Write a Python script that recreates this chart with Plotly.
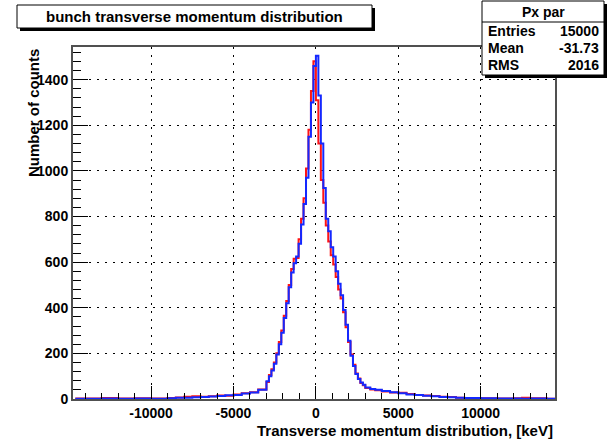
import plotly.graph_objects as go

# ---------------- data ----------------
# histogram bin left edges in keV (coarse in the tails, 150 keV in the core)
tail_left_edges = [-14600, -13000, -12000, -11000, -10000, -9000, -8500, -8000, -7500,
                   -7000, -6500, -6000, -5500, -5000, -4500, -4000, -3500]
core_edges = [-3000 + 150 * i for i in range(40)]
tail_right_edges = [3000, 3300, 3600, 4000, 4500, 5000, 5500, 6000, 6500, 7000, 7500,
                    8000, 8500, 9000, 10000, 11000, 12000, 12500, 13000, 14000]
x_end = 14510

blue_tail_left = [1, 2, 1, 2, 1, 3, 5, 6, 8, 9, 11, 13, 16, 18, 24, 28, 40]
blue_core = [78, 100, 125, 155, 195, 240, 290, 355, 420, 490,
             555, 595, 625, 680, 765, 855, 970, 1150, 1300, 1460,
             1505, 1330, 1120, 925, 790, 735, 665, 625, 560, 505,
             455, 390, 325, 255, 190, 145, 110, 88, 72, 62]
blue_tail_right = [50, 44, 40, 35, 30, 25, 20, 17, 14, 12, 9, 8, 6, 4, 3, 2, 2, 1, 2, 1]

red_tail_left = [2, 4, 2, 3, 2, 4, 7, 10, 12, 10, 12, 15, 14, 20, 25, 30, 42]
red_core = [75, 105, 130, 160, 200, 250, 300, 365, 430, 500,
            570, 615, 618, 700, 790, 880, 1010, 1180, 1350, 1480,
            1310, 1120, 960, 860, 760, 690, 630, 590, 535, 480,
            440, 380, 315, 250, 195, 150, 112, 90, 70, 60]
red_tail_right = [48, 42, 38, 33, 28, 27, 22, 18, 15, 13, 10, 9, 5, 4, 3, 2, 3, 6, 3, 1]

x_ticks = [-10000, -5000, 0, 5000, 10000]
x_tick_labels = ["-10000", "-5000", "0", "5000", "10000"]
y_ticks = [0, 200, 400, 600, 800, 1000, 1200, 1400]
y_tick_labels = ["0", "200", "400", "600", "800", "1000", "1200", "1400"]

title_text = "bunch transverse momentum distribution"
x_title = "Transverse momentum distribution, [keV]"
y_title = "Number of counts"
stats_title = "Px par"
stats_names = ["Entries", "Mean", "RMS"]
stats_values = ["15000", "-31.73", "2016"]

# ---------------- build ----------------
edges = tail_left_edges + core_edges + tail_right_edges + [x_end]
blue = blue_tail_left + blue_core + blue_tail_right
red = red_tail_left + red_core + red_tail_right
blue = blue + [blue[-1]]
red = red + [red[-1]]

FONT = "Liberation Sans, Arial, Helvetica, sans-serif"
W, H = 612, 440
L, R, T, B = 73, 57, 47, 41
PW, PH = W - L - R, H - T - B


def px(x):
    return (x - L) / PW


def py(y):
    return (H - B - y) / PH


fig = go.Figure()
fig.add_trace(go.Scatter(x=edges, y=red, mode="lines", line=dict(color="rgb(255,20,20)", width=2, shape="hv"),
                         showlegend=False, hoverinfo="skip"))
fig.add_trace(go.Scatter(x=edges, y=blue, mode="lines", line=dict(color="rgb(20,40,255)", width=2, shape="hv"),
                         showlegend=False, hoverinfo="skip"))

axis_common = dict(
    showline=True, linecolor="#505050", linewidth=2, mirror=True,
    showgrid=True, gridcolor="black", griddash="1.5px,6.5px", gridwidth=1.3,
    zeroline=False, ticks="inside", tickcolor="black", tickwidth=1,
    tickfont=dict(family=FONT, size=14, color="black", weight="bold"),
)

fig.update_xaxes(range=[-14740, 14510], tickvals=x_ticks, ticktext=x_tick_labels, ticklen=13,
                 minor=dict(dtick=1000, tick0=0, ticks="inside", ticklen=6, tickcolor="black", showgrid=False),
                 **axis_common)
fig.update_yaxes(range=[0, 1543], tickvals=y_ticks, ticktext=y_tick_labels, ticklen=15,
                 minor=dict(dtick=40, tick0=0, ticks="inside", ticklen=8, tickcolor="black", showgrid=False),
                 **axis_common)

shapes = []
# title pave with shadow
shapes.append(dict(type="rect", xref="paper", yref="paper", x0=px(20), x1=px(375), y0=py(31), y1=py(8),
                   fillcolor="black", line=dict(width=0), layer="above"))
shapes.append(dict(type="rect", xref="paper", yref="paper", x0=px(17), x1=px(372), y0=py(28), y1=py(5),
                   fillcolor="white", line=dict(color="black", width=1), layer="above"))
# stats box with shadow
shapes.append(dict(type="rect", xref="paper", yref="paper", x0=px(485), x1=px(607), y0=py(78), y1=py(4),
                   fillcolor="black", line=dict(width=0), layer="above"))
shapes.append(dict(type="rect", xref="paper", yref="paper", x0=px(482), x1=px(604), y0=py(75), y1=py(1),
                   fillcolor="white", line=dict(color="black", width=1), layer="above"))
shapes.append(dict(type="line", xref="paper", yref="paper", x0=px(482), x1=px(604), y0=py(22), y1=py(22),
                   line=dict(color="black", width=1), layer="above"))

annotations = []
tf = dict(family=FONT, size=15, color="black", weight="bold")
annotations.append(dict(text=title_text, xref="paper", yref="paper", x=px(194.5), y=py(16.5),
                        xanchor="center", yanchor="middle", showarrow=False, font=tf))
annotations.append(dict(text=x_title, xref="paper", yref="paper", x=1, y=py(430),
                        xanchor="right", yanchor="middle", showarrow=False, font=tf))
annotations.append(dict(text=y_title, xref="paper", yref="paper", x=px(33), y=1,
                        xanchor="center", yanchor="top", textangle=-90, showarrow=False, font=tf))
sf = dict(family=FONT, size=14, color="black", weight="bold")
annotations.append(dict(text=stats_title, xref="paper", yref="paper", x=px(543), y=py(12),
                        xanchor="center", yanchor="middle", showarrow=False, font=sf))
for i, (n, v) in enumerate(zip(stats_names, stats_values)):
    yy = py(31 + 17 * i)
    annotations.append(dict(text=n, xref="paper", yref="paper", x=px(486), y=yy,
                            xanchor="left", yanchor="middle", showarrow=False, font=sf))
    annotations.append(dict(text=v, xref="paper", yref="paper", x=px(601), y=yy,
                            xanchor="right", yanchor="middle", showarrow=False, font=sf))

fig.update_layout(
    width=W, height=H, margin=dict(l=L, r=R, t=T, b=B, autoexpand=False),
    paper_bgcolor="white", plot_bgcolor="white",
    shapes=shapes, annotations=annotations, showlegend=False,
)

fig.write_html("out.html")
